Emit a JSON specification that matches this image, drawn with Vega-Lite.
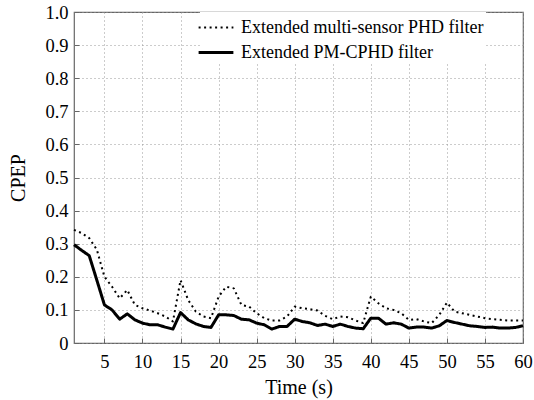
{
  "$schema": "https://vega.github.io/schema/vega-lite/v6.json",
  "width": 449,
  "height": 331,
  "autosize": {"type": "none"},
  "padding": {"left": 74, "top": 12, "right": 11, "bottom": 57},
  "background": "white",
  "config": {
    "font": "Liberation Serif",
    "view": {"stroke": "#666", "strokeWidth": 1.2},
    "axis": {
      "labelFont": "Liberation Serif",
      "labelFontSize": 18.5,
      "labelColor": "black",
      "labelFlush": false,
      "titleFont": "Liberation Serif",
      "titleFontSize": 20,
      "titleFontWeight": "normal",
      "titleColor": "black",
      "domainColor": "#666",
      "tickColor": "#666",
      "grid": true,
      "gridColor": "#999",
      "gridDash": [1, 3],
      "gridWidth": 1
    }
  },
  "data": {
    "values": [
      {"t":1,"v":0.342,"s":"Extended multi-sensor PHD filter"},
      {"t":2,"v":0.332,"s":"Extended multi-sensor PHD filter"},
      {"t":3,"v":0.317,"s":"Extended multi-sensor PHD filter"},
      {"t":4,"v":0.282,"s":"Extended multi-sensor PHD filter"},
      {"t":5,"v":0.2,"s":"Extended multi-sensor PHD filter"},
      {"t":6,"v":0.17,"s":"Extended multi-sensor PHD filter"},
      {"t":7,"v":0.135,"s":"Extended multi-sensor PHD filter"},
      {"t":8,"v":0.16,"s":"Extended multi-sensor PHD filter"},
      {"t":9,"v":0.115,"s":"Extended multi-sensor PHD filter"},
      {"t":10,"v":0.105,"s":"Extended multi-sensor PHD filter"},
      {"t":11,"v":0.098,"s":"Extended multi-sensor PHD filter"},
      {"t":12,"v":0.09,"s":"Extended multi-sensor PHD filter"},
      {"t":13,"v":0.08,"s":"Extended multi-sensor PHD filter"},
      {"t":14,"v":0.065,"s":"Extended multi-sensor PHD filter"},
      {"t":15,"v":0.19,"s":"Extended multi-sensor PHD filter"},
      {"t":16,"v":0.13,"s":"Extended multi-sensor PHD filter"},
      {"t":17,"v":0.095,"s":"Extended multi-sensor PHD filter"},
      {"t":18,"v":0.08,"s":"Extended multi-sensor PHD filter"},
      {"t":19,"v":0.075,"s":"Extended multi-sensor PHD filter"},
      {"t":20,"v":0.14,"s":"Extended multi-sensor PHD filter"},
      {"t":21,"v":0.17,"s":"Extended multi-sensor PHD filter"},
      {"t":22,"v":0.165,"s":"Extended multi-sensor PHD filter"},
      {"t":23,"v":0.115,"s":"Extended multi-sensor PHD filter"},
      {"t":24,"v":0.11,"s":"Extended multi-sensor PHD filter"},
      {"t":25,"v":0.09,"s":"Extended multi-sensor PHD filter"},
      {"t":26,"v":0.075,"s":"Extended multi-sensor PHD filter"},
      {"t":27,"v":0.068,"s":"Extended multi-sensor PHD filter"},
      {"t":28,"v":0.068,"s":"Extended multi-sensor PHD filter"},
      {"t":29,"v":0.08,"s":"Extended multi-sensor PHD filter"},
      {"t":30,"v":0.11,"s":"Extended multi-sensor PHD filter"},
      {"t":31,"v":0.105,"s":"Extended multi-sensor PHD filter"},
      {"t":32,"v":0.102,"s":"Extended multi-sensor PHD filter"},
      {"t":33,"v":0.098,"s":"Extended multi-sensor PHD filter"},
      {"t":34,"v":0.082,"s":"Extended multi-sensor PHD filter"},
      {"t":35,"v":0.072,"s":"Extended multi-sensor PHD filter"},
      {"t":36,"v":0.08,"s":"Extended multi-sensor PHD filter"},
      {"t":37,"v":0.078,"s":"Extended multi-sensor PHD filter"},
      {"t":38,"v":0.068,"s":"Extended multi-sensor PHD filter"},
      {"t":39,"v":0.06,"s":"Extended multi-sensor PHD filter"},
      {"t":40,"v":0.14,"s":"Extended multi-sensor PHD filter"},
      {"t":41,"v":0.12,"s":"Extended multi-sensor PHD filter"},
      {"t":42,"v":0.105,"s":"Extended multi-sensor PHD filter"},
      {"t":43,"v":0.1,"s":"Extended multi-sensor PHD filter"},
      {"t":44,"v":0.09,"s":"Extended multi-sensor PHD filter"},
      {"t":45,"v":0.07,"s":"Extended multi-sensor PHD filter"},
      {"t":46,"v":0.072,"s":"Extended multi-sensor PHD filter"},
      {"t":47,"v":0.065,"s":"Extended multi-sensor PHD filter"},
      {"t":48,"v":0.06,"s":"Extended multi-sensor PHD filter"},
      {"t":49,"v":0.085,"s":"Extended multi-sensor PHD filter"},
      {"t":50,"v":0.122,"s":"Extended multi-sensor PHD filter"},
      {"t":51,"v":0.095,"s":"Extended multi-sensor PHD filter"},
      {"t":52,"v":0.09,"s":"Extended multi-sensor PHD filter"},
      {"t":53,"v":0.085,"s":"Extended multi-sensor PHD filter"},
      {"t":54,"v":0.08,"s":"Extended multi-sensor PHD filter"},
      {"t":55,"v":0.075,"s":"Extended multi-sensor PHD filter"},
      {"t":56,"v":0.072,"s":"Extended multi-sensor PHD filter"},
      {"t":57,"v":0.07,"s":"Extended multi-sensor PHD filter"},
      {"t":58,"v":0.068,"s":"Extended multi-sensor PHD filter"},
      {"t":59,"v":0.068,"s":"Extended multi-sensor PHD filter"},
      {"t":60,"v":0.068,"s":"Extended multi-sensor PHD filter"},
      {"t":1,"v":0.297,"s":"Extended PM-CPHD filter"},
      {"t":2,"v":0.28,"s":"Extended PM-CPHD filter"},
      {"t":3,"v":0.264,"s":"Extended PM-CPHD filter"},
      {"t":4,"v":0.19,"s":"Extended PM-CPHD filter"},
      {"t":5,"v":0.115,"s":"Extended PM-CPHD filter"},
      {"t":6,"v":0.1,"s":"Extended PM-CPHD filter"},
      {"t":7,"v":0.072,"s":"Extended PM-CPHD filter"},
      {"t":8,"v":0.088,"s":"Extended PM-CPHD filter"},
      {"t":9,"v":0.07,"s":"Extended PM-CPHD filter"},
      {"t":10,"v":0.06,"s":"Extended PM-CPHD filter"},
      {"t":11,"v":0.055,"s":"Extended PM-CPHD filter"},
      {"t":12,"v":0.055,"s":"Extended PM-CPHD filter"},
      {"t":13,"v":0.048,"s":"Extended PM-CPHD filter"},
      {"t":14,"v":0.042,"s":"Extended PM-CPHD filter"},
      {"t":15,"v":0.092,"s":"Extended PM-CPHD filter"},
      {"t":16,"v":0.07,"s":"Extended PM-CPHD filter"},
      {"t":17,"v":0.058,"s":"Extended PM-CPHD filter"},
      {"t":18,"v":0.05,"s":"Extended PM-CPHD filter"},
      {"t":19,"v":0.047,"s":"Extended PM-CPHD filter"},
      {"t":20,"v":0.085,"s":"Extended PM-CPHD filter"},
      {"t":21,"v":0.085,"s":"Extended PM-CPHD filter"},
      {"t":22,"v":0.083,"s":"Extended PM-CPHD filter"},
      {"t":23,"v":0.072,"s":"Extended PM-CPHD filter"},
      {"t":24,"v":0.07,"s":"Extended PM-CPHD filter"},
      {"t":25,"v":0.06,"s":"Extended PM-CPHD filter"},
      {"t":26,"v":0.055,"s":"Extended PM-CPHD filter"},
      {"t":27,"v":0.042,"s":"Extended PM-CPHD filter"},
      {"t":28,"v":0.05,"s":"Extended PM-CPHD filter"},
      {"t":29,"v":0.05,"s":"Extended PM-CPHD filter"},
      {"t":30,"v":0.072,"s":"Extended PM-CPHD filter"},
      {"t":31,"v":0.065,"s":"Extended PM-CPHD filter"},
      {"t":32,"v":0.061,"s":"Extended PM-CPHD filter"},
      {"t":33,"v":0.053,"s":"Extended PM-CPHD filter"},
      {"t":34,"v":0.057,"s":"Extended PM-CPHD filter"},
      {"t":35,"v":0.05,"s":"Extended PM-CPHD filter"},
      {"t":36,"v":0.057,"s":"Extended PM-CPHD filter"},
      {"t":37,"v":0.05,"s":"Extended PM-CPHD filter"},
      {"t":38,"v":0.045,"s":"Extended PM-CPHD filter"},
      {"t":39,"v":0.043,"s":"Extended PM-CPHD filter"},
      {"t":40,"v":0.075,"s":"Extended PM-CPHD filter"},
      {"t":41,"v":0.075,"s":"Extended PM-CPHD filter"},
      {"t":42,"v":0.057,"s":"Extended PM-CPHD filter"},
      {"t":43,"v":0.061,"s":"Extended PM-CPHD filter"},
      {"t":44,"v":0.057,"s":"Extended PM-CPHD filter"},
      {"t":45,"v":0.045,"s":"Extended PM-CPHD filter"},
      {"t":46,"v":0.048,"s":"Extended PM-CPHD filter"},
      {"t":47,"v":0.048,"s":"Extended PM-CPHD filter"},
      {"t":48,"v":0.045,"s":"Extended PM-CPHD filter"},
      {"t":49,"v":0.052,"s":"Extended PM-CPHD filter"},
      {"t":50,"v":0.068,"s":"Extended PM-CPHD filter"},
      {"t":51,"v":0.062,"s":"Extended PM-CPHD filter"},
      {"t":52,"v":0.057,"s":"Extended PM-CPHD filter"},
      {"t":53,"v":0.052,"s":"Extended PM-CPHD filter"},
      {"t":54,"v":0.05,"s":"Extended PM-CPHD filter"},
      {"t":55,"v":0.047,"s":"Extended PM-CPHD filter"},
      {"t":56,"v":0.048,"s":"Extended PM-CPHD filter"},
      {"t":57,"v":0.045,"s":"Extended PM-CPHD filter"},
      {"t":58,"v":0.045,"s":"Extended PM-CPHD filter"},
      {"t":59,"v":0.047,"s":"Extended PM-CPHD filter"},
      {"t":60,"v":0.052,"s":"Extended PM-CPHD filter"}
    ]
  },
  "mark": {"type": "line", "color": "black", "strokeCap": "butt", "strokeJoin": "round"},
  "encoding": {
    "x": {
      "field": "t",
      "type": "quantitative",
      "scale": {"domain": [1, 60], "nice": false, "zero": false},
      "axis": {
        "title": "Time (s)",
        "values": [5, 10, 15, 20, 25, 30, 35, 40, 45, 50, 55, 60],
        "format": "d",
        "ticks": true,
        "tickSize": -5,
        "labelPadding": 14,
        "titlePadding": 7,
        "domain": false
      }
    },
    "y": {
      "field": "v",
      "type": "quantitative",
      "scale": {"domain": [0, 1], "nice": false},
      "axis": {
        "title": "CPEP",
        "values": [0, 0.1, 0.2, 0.3, 0.4, 0.5, 0.6, 0.7, 0.8, 0.9, 1.0],
        "labelExpr": "datum.value == 0 ? '0' : format(datum.value, '.1f')",
        "ticks": true,
        "tickSize": -5,
        "labelPadding": 11,
        "titlePadding": 16,
        "domain": false
      }
    },
    "strokeDash": {
      "field": "s",
      "type": "nominal",
      "scale": {
        "domain": ["Extended multi-sensor PHD filter", "Extended PM-CPHD filter"],
        "range": [[2, 3.5], [1, 0]]
      },
      "legend": {
        "title": null,
        "orient": "none",
        "legendX": 126,
        "legendY": 0,
        "fillColor": "white",
        "padding": 2,
        "symbolType": "M-1.42,0L1.42,0",
        "symbolSize": 600,
        "symbolStrokeColor": "black",
        "symbolStrokeWidth": 2.6,
        "labelFont": "Liberation Serif",
        "labelFontSize": 18,
        "labelColor": "black",
        "labelOffset": 11,
        "rowPadding": 1.5,
        "labelLimit": 400
      }
    },
    "strokeWidth": {
      "field": "s",
      "type": "nominal",
      "scale": {
        "domain": ["Extended multi-sensor PHD filter", "Extended PM-CPHD filter"],
        "range": [2, 3]
      },
      "legend": null
    }
  }
}
